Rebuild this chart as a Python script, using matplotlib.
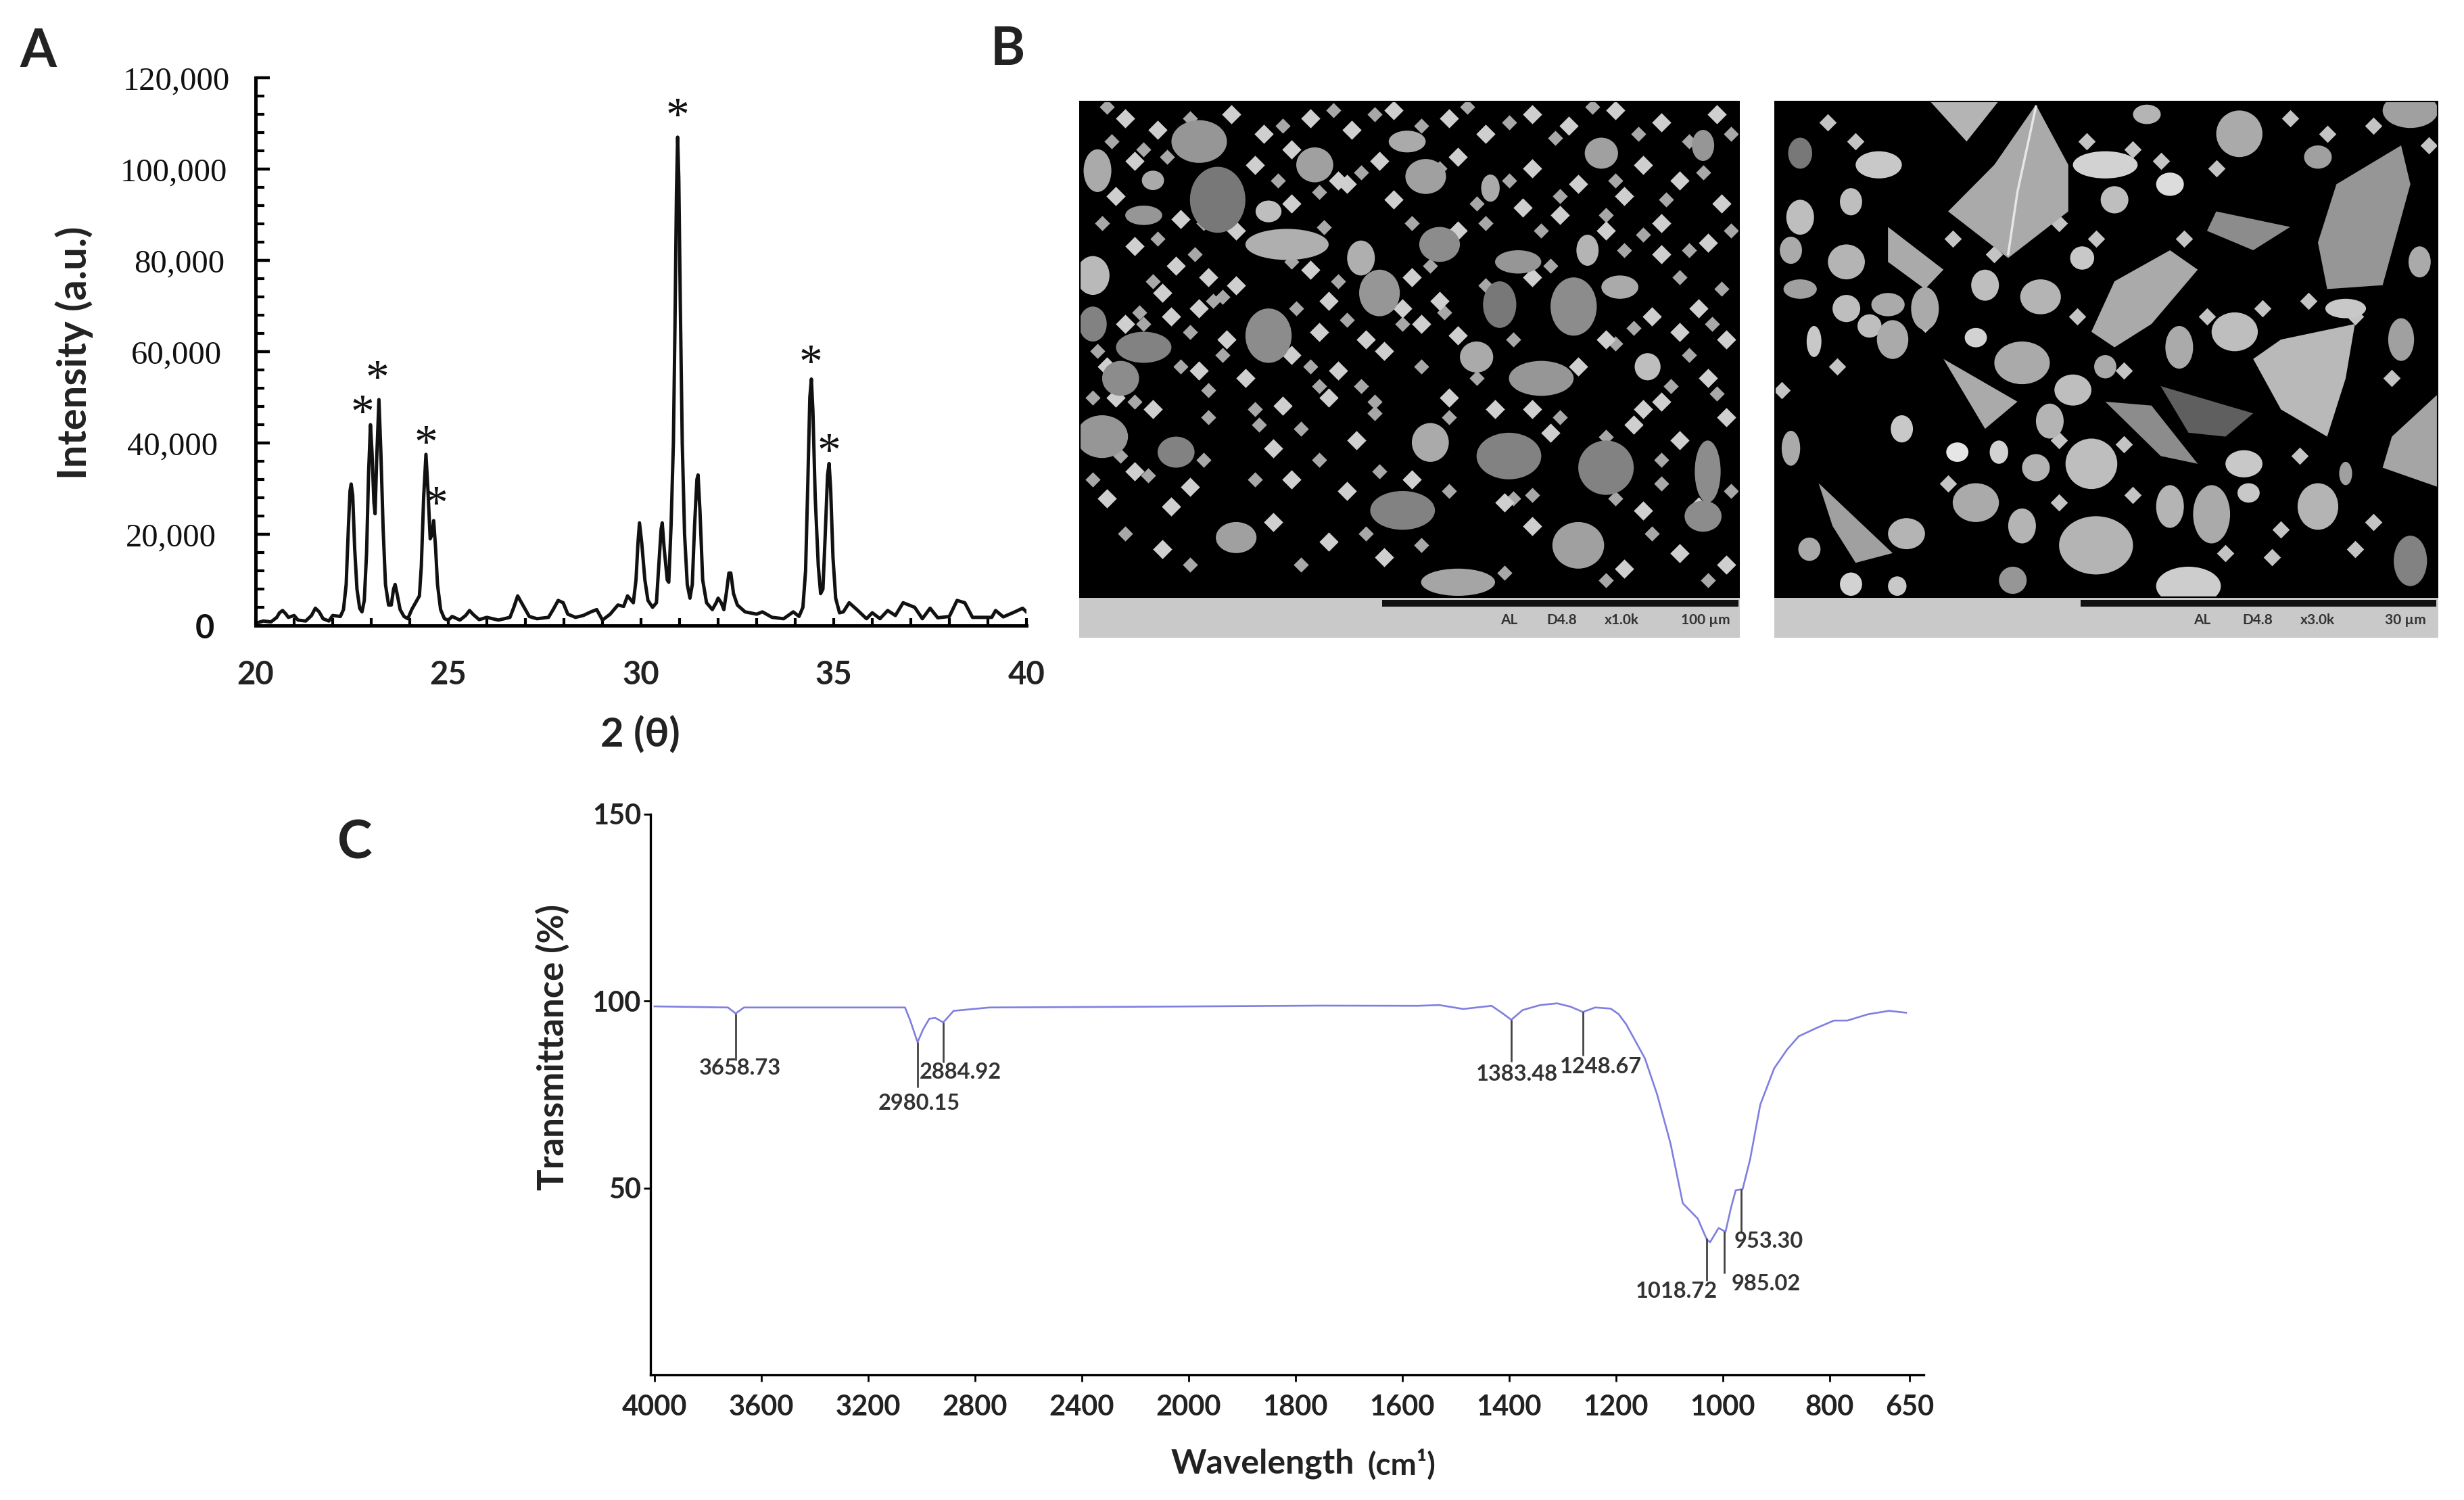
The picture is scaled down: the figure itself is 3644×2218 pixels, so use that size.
import numpy as np
import matplotlib
matplotlib.use("Agg")
import matplotlib.pyplot as plt
from matplotlib.patches import Ellipse, Polygon, Rectangle

plt.rcParams['font.family'] = ['Lato', 'DejaVu Sans']

W, H = 3644, 2218

# panel A, XRD pattern
xrd_theta = [20, 20.2, 20.4, 20.55, 20.62, 20.7, 20.78, 20.85, 21.0, 21.1, 21.3, 21.45, 21.55, 21.65, 21.75, 21.9, 22.0, 22.2,
             22.28, 22.35, 22.41, 22.45, 22.48, 22.52, 22.57, 22.63, 22.7, 22.76, 22.82, 22.88, 22.93, 22.98, 23.02, 23.07,
             23.1, 23.14, 23.2, 23.25, 23.31, 23.37, 23.45, 23.52, 23.58, 23.62, 23.67, 23.75, 23.85, 23.95, 24.05, 24.15,
             24.25, 24.3, 24.36, 24.42, 24.47, 24.53, 24.58, 24.62, 24.67, 24.72, 24.8, 24.9, 25.0, 25.1, 25.3, 25.45, 25.55,
             25.65, 25.8, 26.0, 26.3, 26.6, 26.7, 26.8, 26.9, 27.0, 27.1, 27.3, 27.6, 27.72, 27.85, 27.98, 28.1, 28.3, 28.5,
             28.7, 28.85, 29.0, 29.2, 29.4, 29.55, 29.65, 29.8, 29.87, 29.92, 29.96, 30.02, 30.1, 30.18, 30.3, 30.4, 30.46,
             30.52, 30.55, 30.6, 30.68, 30.72, 30.78, 30.84, 30.88, 30.92, 30.95, 30.98, 31.02, 31.07, 31.13, 31.2, 31.27,
             31.33, 31.39, 31.45, 31.48, 31.53, 31.6, 31.7, 31.85, 31.95, 32.0, 32.08, 32.15, 32.22, 32.28, 32.33, 32.4, 32.5,
             32.7, 33.0, 33.15, 33.4, 33.7, 33.95, 34.1, 34.2, 34.27, 34.33, 34.38, 34.42, 34.46, 34.52, 34.6, 34.66, 34.72,
             34.78, 34.84, 34.88, 34.92, 34.98, 35.05, 35.15, 35.25, 35.4, 35.6, 35.85, 36.0, 36.2, 36.4, 36.6, 36.8, 37.1,
             37.3, 37.5, 37.7, 38.0, 38.2, 38.4, 38.6, 39.1, 39.2, 39.4, 39.7, 39.9, 40]
xrd_intensity = [500, 1000, 800, 1800, 2800, 3300, 2600, 1800, 2200, 1200, 1000, 2200, 3800, 3000, 1500, 1000, 2200, 2000,
                 3500, 9000, 22000, 29500, 31000, 28500, 17000, 8000, 3800, 3000, 5500, 16000, 33000, 44000, 38000, 27000,
                 24500, 36000, 49500, 38000, 21000, 9000, 4500, 4500, 8000, 9000, 7000, 3500, 2000, 1500, 3500, 5000,
                 6500, 13000, 28000, 37500, 30000, 19000, 20000, 23000, 17000, 9000, 3500, 1500, 1200, 2000, 1200, 2200, 3300,
                 2400, 1300, 1800, 1200, 1800, 4000, 6500, 5000, 3500, 2000, 1500, 1800, 3500, 5500, 5000, 2500, 1800, 2200,
                 3000, 3500, 1200, 2500, 4500, 4200, 6500, 5000, 10000, 18000, 22500, 18000, 10000, 5500, 4000, 5000, 13000,
                 21000, 22500, 17000, 10000, 9500, 22000, 40000, 65000, 95000, 107000, 98000, 70000, 40000, 20000, 9000, 6000,
                 9000, 22000, 32000, 33000, 25000, 10000, 5000, 3500, 5000, 6000, 5000, 3500, 7500, 11500, 11500, 7000, 4500,
                 3000, 2500, 3000, 1800, 1500, 3000, 2000, 4000, 12000, 32000, 50000, 54000, 47000, 28000, 13000, 7000, 8000,
                 20000, 33000, 35500, 30000, 15000, 6000, 2800, 3000, 5000, 3500, 1500, 2800, 1500, 3300, 2200, 5000, 4000,
                 1500, 3800, 1700, 2000, 5500, 5000, 1800, 1800, 3300, 1900, 3000, 3800, 3000]
star_x = [22.77, 23.15, 24.42, 24.69, 30.95, 34.4, 34.88]
star_y = [48400, 56000, 41700, 28400, 113400, 59300, 39900]
xrd_yticks = [0, 20000, 40000, 60000, 80000, 100000, 120000]
xrd_ylabels = ['0', '20,000', '40,000', '60,000', '80,000', '100,000', '120,000']
xrd_ypads = [44, 42, 40, 36, 33, 30, 27]

# panel C, FTIR spectrum
ftir_wn = [4000, 3725, 3696, 3665, 3062, 3043, 3015, 2994, 2971, 2948, 2919, 2880, 2746, 2182, 1753, 1571, 1531, 1486,
           1433, 1414, 1396, 1375, 1342, 1310, 1285, 1262, 1239, 1210, 1195, 1181, 1146, 1123, 1098, 1075, 1047, 1030, 1024,
           1008, 995, 985, 976, 963, 949, 930, 904, 880, 858, 825, 792, 767, 728, 689, 657]
ftir_trans = [98.6, 98.3, 96.7, 98.3, 98.3, 94.9, 89.0, 92.5, 95.3, 95.5, 94.3, 97.4, 98.3, 98.5, 98.8, 98.75, 98.95,
              97.9, 98.75, 96.9, 95.0, 97.6, 98.95, 99.4, 98.5, 97.1, 98.3, 98.0, 96.5, 93.8, 84.7, 75.0, 61.9, 45.9, 41.8,
              36.2, 35.5, 39.3, 38.3, 44.6, 49.4, 49.7, 57.7, 72.3, 82.0, 87.0, 90.6, 92.8, 94.8, 94.8, 96.5, 97.4, 96.9]
peak_labels = ['3658.73', '2980.15', '2884.92', '1383.48', '1248.67', '1018.72', '985.02', '953.30']
peak_x = [3696, 3015, 2919, 1396, 1262, 1030, 997, 966]
peak_top = [96.7, 89.0, 94.3, 95.0, 97.2, 36.6, 38.3, 49.7]
peak_bottom = [84.1, 76.9, 83.6, 83.7, 85.4, 25.1, 27.2, 38.0]
label_x = [3680, 3009, 2854, 1385, 1229, 1087, 919, 914]
label_y = [82.0, 72.6, 80.9, 80.5, 82.5, 22.4, 24.4, 35.8]
ftir_ticks = [4000, 3600, 3200, 2800, 2400, 2000, 1800, 1600, 1400, 1200, 1000, 800, 650]
wn_knots = [500, 650, 800, 1000, 1200, 1400, 1600, 1800, 2000, 2400, 2800, 3200, 3600, 4000, 4400]
pos_knots = [12.5, 11.75, 11, 10, 9, 8, 7, 6, 5, 4, 3, 2, 1, 0, -1]

# panel B, grains
left_grains = [(200, 190, 60, 110, 150), (220, 340, 60, 170, 120), (295, 455, 90, 80, 175), (85, 535, 36, 100, 185),
               (375, 490, 30, 90, 175), (395, 580, 44, 120, 150), (460, 455, 44, 90, 140), (545, 500, 50, 60, 150),
               (605, 615, 50, 150, 140), (525, 610, 36, 120, 120), (655, 565, 40, 60, 170), (275, 690, 50, 140, 140),
               (140, 720, 60, 80, 130), (115, 800, 40, 90, 140), (500, 745, 36, 80, 170), (570, 800, 70, 90, 150),
               (685, 770, 28, 70, 190), (95, 950, 56, 110, 150), (175, 990, 40, 80, 130), (450, 965, 40, 100, 170),
               (535, 1000, 70, 120, 130), (640, 1030, 60, 140, 130), (750, 1040, 28, 160, 140), (420, 1140, 70, 100, 130),
               (240, 1210, 44, 80, 160), (610, 1230, 56, 120, 160), (480, 1325, 80, 70, 165), (745, 1155, 40, 80, 140),
               (325, 250, 40, 90, 160), (445, 280, 44, 90, 160), (275, 370, 28, 56, 190), (140, 380, 40, 50, 150),
               (90, 265, 30, 110, 170), (150, 290, 24, 50, 170), (635, 220, 36, 80, 160), (745, 200, 24, 80, 150),
               (425, 190, 40, 56, 170), (515, 310, 20, 70, 170), (620, 470, 24, 80, 180), (85, 660, 30, 90, 130)]
left_small_x = [120, 155, 235, 270, 320, 365, 410, 470, 510, 560, 600, 650, 700, 760, 130, 260, 300, 350, 395, 480, 560,
                610, 680, 720, 110, 180, 240, 300, 360, 410, 550, 590, 660, 700, 765, 130, 175, 210, 320, 430, 480, 640,
                700, 750, 160, 200, 240, 340, 420, 460, 560, 690, 740, 120, 170, 230, 330, 380, 440, 480, 640, 720, 770,
                100, 200, 250, 300, 350, 400, 610, 700, 750, 110, 150, 290, 340, 470, 560, 680, 770, 130, 190, 280, 370,
                520, 580, 670, 720, 100, 170, 300, 360, 430, 530, 680, 740, 160, 280, 340, 400, 560, 660, 720, 770]
left_small_y = [130, 160, 120, 170, 130, 160, 110, 130, 170, 120, 150, 110, 140, 120, 240, 250, 210, 290, 240, 230, 260,
                300, 250, 290, 330, 390, 420, 350, 300, 340, 360, 380, 330, 400, 350, 460, 510, 540, 520, 540, 420, 420,
                480, 450, 580, 620, 560, 600, 620, 600, 540, 640, 620, 660, 640, 700, 680, 700, 660, 690, 700, 680, 700,
                770, 780, 800, 740, 780, 730, 770, 860, 800, 850, 880, 870, 850, 850, 880, 880, 900, 1040, 1080, 980, 960,
                880, 940, 920, 960, 1110, 1130, 1060, 1090, 1060, 1120, 1140, 1130, 1240, 1170, 1220, 1260, 1180, 1290,
                1250, 1280]
left_fine_x = [100, 140, 190, 290, 345, 390, 440, 490, 535, 585, 625, 675, 730, 775, 105, 165, 285, 330, 375, 460, 500, 535,
               590, 650, 705, 745, 95, 155, 205, 270, 335, 430, 510, 570, 640, 680, 730, 775, 150, 195, 225, 300, 350, 450,
               510, 580, 660, 720, 765, 135, 190, 215, 305, 360, 420, 465, 530, 670, 755, 90, 140, 180, 225, 320, 375, 440,
               540, 650, 730, 85, 130, 210, 260, 330, 390, 500, 590, 710, 760, 115, 210, 265, 310, 390, 470, 540, 640, 700,
               85, 145, 205, 260, 330, 395, 470, 560, 650, 700, 775, 120, 190, 310, 380, 440, 530, 640, 690, 750]
left_fine_y = [100, 210, 130, 150, 110, 120, 150, 100, 140, 180, 100, 170, 190, 170, 190, 230, 290, 320, 270, 260, 350, 290,
               330, 290, 340, 270, 400, 440, 400, 440, 410, 400, 400, 420, 380, 430, 470, 420, 550, 480, 590, 500, 550, 510,
               560, 510, 470, 540, 570, 630, 680, 600, 620, 650, 660, 630, 580, 670, 660, 730, 660, 770, 740, 770, 820, 770,
               700, 710, 740, 850, 860, 830, 880, 820, 860, 800, 900, 820, 840, 1000, 900, 920, 930, 890, 900, 1110, 950, 1010,
               1060, 1050, 1010, 1060, 1010, 1040, 1090, 1100, 1110, 1070, 1090, 1200, 1280, 1280, 1200, 1230, 1300, 1320, 1200, 1320]
right_grains = [(850, 220, 26, 80, 120), (935, 250, 50, 70, 200), (905, 345, 24, 70, 190), (850, 385, 30, 90, 190),
                (840, 470, 24, 70, 170), (900, 500, 40, 90, 180), (850, 570, 36, 50, 160), (900, 620, 30, 70, 190),
                (945, 610, 36, 60, 170), (985, 620, 30, 110, 170), (925, 665, 26, 60, 190), (950, 700, 34, 100, 170),
                (865, 705, 16, 80, 200), (1040, 695, 24, 50, 210), (1090, 760, 60, 110, 170), (1050, 560, 30, 80, 190),
                (1110, 590, 44, 90, 180), (1180, 250, 70, 70, 210), (1250, 300, 30, 60, 220), (1190, 340, 30, 70, 190),
                (1155, 490, 26, 60, 200), (1325, 170, 50, 120, 170), (1410, 230, 30, 60, 160), (1510, 110, 60, 90, 160),
                (1225, 120, 30, 50, 180), (1320, 680, 50, 100, 190), (1260, 720, 30, 110, 170), (1180, 770, 24, 60, 170),
                (1145, 830, 40, 80, 190), (1120, 910, 30, 90, 180), (960, 930, 24, 70, 200), (1020, 990, 24, 50, 230),
                (1065, 990, 20, 60, 210), (840, 980, 20, 90, 170), (1165, 1020, 56, 130, 190), (1105, 1030, 30, 70, 180),
                (1040, 1120, 50, 100, 170), (1090, 1180, 30, 90, 180), (1170, 1230, 80, 150, 180), (1250, 1130, 30, 110, 180),
                (1295, 1150, 40, 150, 170), (1330, 1020, 40, 70, 200), (1410, 1130, 44, 120, 180), (1335, 1095, 24, 50, 200),
                (1270, 1335, 70, 100, 205), (1510, 1270, 36, 130, 130), (965, 1200, 40, 80, 180), (860, 1240, 24, 60, 170),
                (905, 1330, 24, 60, 210), (955, 1335, 20, 50, 200), (1080, 1320, 30, 70, 150), (1440, 1045, 14, 60, 160),
                (1500, 700, 28, 110, 160), (1440, 620, 44, 50, 200), (1520, 500, 24, 80, 170)]
right_big = [([1105, 1140, 1140, 1075, 1010, 1060], [95, 250, 370, 490, 370, 250], 170),
             ([990, 1065, 1030], [85, 85, 190], 180),
             ([1500, 1510, 1480, 1420, 1410, 1430], [200, 300, 560, 570, 450, 300], 150),
             ([1450, 1440, 1420, 1370, 1340, 1370], [660, 800, 950, 880, 750, 700], 185),
             ([1250, 1280, 1230, 1190, 1165, 1190], [470, 520, 660, 720, 680, 550], 170),
             ([1180, 1230, 1280, 1240], [860, 870, 1020, 1000], 140),
             ([1240, 1340, 1310, 1270], [820, 890, 950, 940], 95),
             ([1540, 1540, 1480, 1490], [840, 1080, 1030, 950], 165),
             ([1300, 1380, 1340, 1290], [370, 410, 470, 420], 140),
             ([870, 950, 910, 885], [1070, 1250, 1275, 1180], 160),
             ([1005, 1085, 1050], [750, 860, 930], 170),
             ([945, 1005, 985, 945], [410, 520, 570, 500], 170)]
right_small_x = [880, 910, 1160, 1210, 1240, 1300, 1380, 1420, 1470, 1530, 1130, 1170, 1265, 1015, 1060, 985, 1150, 1200,
                 1290, 1350, 1400, 1450, 1490, 830, 890, 1010, 1130, 1210, 1310, 1370, 1450, 1130, 1200, 1360, 1390, 1470]
right_small_y = [140, 190, 190, 210, 240, 260, 130, 170, 150, 200, 400, 440, 440, 440, 480, 660, 640, 780, 640, 620, 600,
                 640, 800, 830, 770, 1070, 1120, 1100, 1250, 1190, 1240, 960, 970, 1260, 1000, 1170]
micro_text = [['AL', 'D4.8', 'x1.0k', '100 µm'], ['AL', 'D4.8', 'x3.0k', '30 µm']]
micro_text_x = [[535, 592, 657, 748], [1285, 1345, 1410, 1505]]


def px_axes(l, t, r, b):
    return fig.add_axes([l / W, 1 - b / H, (r - l) / W, (b - t) / H])


def px_text(x, y, s, **kw):
    fig.text(x / W, 1 - y / H, s, **kw)


def forward(x):
    return -np.interp(x, wn_knots, pos_knots)


def inverse(u):
    return np.interp(-np.asarray(u), pos_knots[::-1], wn_knots[::-1])


fig = plt.figure(figsize=(W / 100, H / 100), dpi=100, facecolor='white')

# A
ax = px_axes(378, 115, 1518, 925)
ax.plot(xrd_theta, xrd_intensity, color='#111111', lw=3.6, solid_joinstyle='round')
ax.set_xlim(20, 40)
ax.set_ylim(0, 120000)
ax.spines[['top', 'right']].set_visible(False)
ax.spines[['left', 'bottom']].set_linewidth(3.6)
ax.set_xticks(range(20, 41, 5))
ax.set_xticks(range(20, 41), minor=True)
ax.set_yticks(xrd_yticks)
ax.set_yticks(range(0, 120001, 4000), minor=True)
ax.tick_params(axis='y', which='major', direction='in', length=15, width=3.2)
ax.tick_params(axis='y', which='minor', direction='in', length=9.5, width=3)
ax.tick_params(axis='x', which='both', direction='in', length=8, width=3)
ax.set_yticklabels(xrd_ylabels, family='Liberation Serif', fontsize=35, color='#111111')
ax.set_xticklabels([str(v) for v in range(20, 41, 5)], fontsize=34, fontweight='bold', color='#222222')
ax.tick_params(axis='x', which='major', pad=37)
for tick, p in zip(ax.yaxis.get_major_ticks(), xrd_ypads):
    tick.set_pad(p)
zero = ax.get_yticklabels()[0]
zero.set_family(['Lato', 'DejaVu Sans'])
zero.set_fontweight('bold')
for x, y in zip(star_x, star_y):
    ax.annotate('*', (x, y), xytext=(0, -11.5), textcoords='offset points', family='Liberation Serif', fontsize=50,
                ha='center', va='center', color='#111111')
px_text(110, 522, 'Intensity (a.u.)', fontsize=43, fontweight='bold', rotation=90, ha='center', va='center', color='#222222')
px_text(947, 1087, '2 (θ)', fontsize=43, fontweight='bold', ha='center', va='center', color='#222222')

# B
for i, (x0, x1) in enumerate([(70, 785), (822, 1540)]):
    l = 1500 + x0 * 2144 / 1568
    r = 1500 + x1 * 2144 / 1568
    axb = px_axes(l, 149, r, 943)
    axb.set_xlim(x0, x1)
    axb.set_ylim(1468, 85)
    axb.axis('off')
    axb.add_patch(Rectangle((x0, 85), x1 - x0, 1280, color='black', lw=0))
    if i == 0:
        axb.scatter(left_fine_x, left_fine_y, s=130, marker='D', color='#a8a8a8', lw=0)
        axb.scatter(left_small_x, left_small_y, s=210, marker='D', color='#cfcfcf', lw=0)
        for gx, gy, gw, gh, g in left_grains:
            axb.add_patch(Ellipse((gx, gy), gw, gh, color=str(g / 255), lw=0))
    else:
        axb.scatter(right_small_x, right_small_y, s=170, marker='D', color='#c4c4c4', lw=0)
        for gx, gy, gw, gh, g in right_grains:
            axb.add_patch(Ellipse((gx, gy), gw, gh, color=str(g / 255), lw=0))
        for px, py, g in right_big:
            axb.add_patch(Polygon(list(zip(px, py)), closed=True, color=str(g / 255), lw=0))
        axb.plot([1105, 1085, 1075], [100, 320, 480], color='#e6e6e6', lw=2.5)
    axb.add_patch(Rectangle((x0, 85), x1 - x0, 1280, fill=False, ec='black', lw=3))
    axb.add_patch(Rectangle((x0, 1365), x1 - x0, 103, color='#c9c9c9', lw=0))
    axb.add_patch(Rectangle((x1 - 387, 1370), 385, 18, color='#111111', lw=0))
    for s, tx in zip(micro_text[i], micro_text_x[i]):
        axb.text(tx, 1422, s, fontsize=15, fontweight='bold', ha='center', va='center', color='#333333')

# C
ax2 = px_axes(962, 1204, 2845, 2033)
ax2.set_xscale('function', functions=(forward, inverse))
ax2.plot(ftir_wn, ftir_trans, color='#7f7fe0', lw=1.9)
ax2.set_xlim(4015, 624)
ax2.set_ylim(0, 150)
ax2.spines[['top', 'right']].set_visible(False)
ax2.spines[['left', 'bottom']].set_linewidth(2.4)
ax2.set_xticks(ftir_ticks)
ax2.set_xticklabels([str(v) for v in ftir_ticks], fontsize=30, fontweight='bold', color='#222222')
ax2.minorticks_off()
ax2.set_yticks([50, 100, 150])
ax2.set_yticklabels(['50', '100', '150'], fontsize=30, fontweight='bold', color='#222222')
ax2.tick_params(axis='x', length=7, width=2, pad=14)
ax2.tick_params(axis='y', length=7, width=2, pad=3)
ax2.vlines(peak_x, peak_bottom, peak_top, color='#444444', lw=2)
for s, x, y in zip(peak_labels, label_x, label_y):
    ax2.text(x, y, s, fontsize=23.5, fontweight='bold', ha='center', va='center', color='#333333')
px_text(817, 1548, 'Transmittance (%)', fontsize=38, fontweight='bold', rotation=90, ha='center', va='center', color='#222222')
px_text(1732, 2164, 'Wavelength', fontsize=36, fontweight='bold', ha='left', va='center', color='#222222')
px_text(2022, 2166, '(cm¹)', fontsize=33, fontweight='bold', ha='left', va='center', color='#222222')

# panel letters
px_text(56, 77, 'A', fontsize=56, fontweight='bold', ha='center', va='center', color='#222222')
px_text(1490, 74, 'B', fontsize=56, fontweight='bold', ha='center', va='center', color='#222222')
px_text(525, 1248, 'C', fontsize=56, fontweight='bold', ha='center', va='center', color='#222222')

fig.savefig('out.png', dpi=100)
